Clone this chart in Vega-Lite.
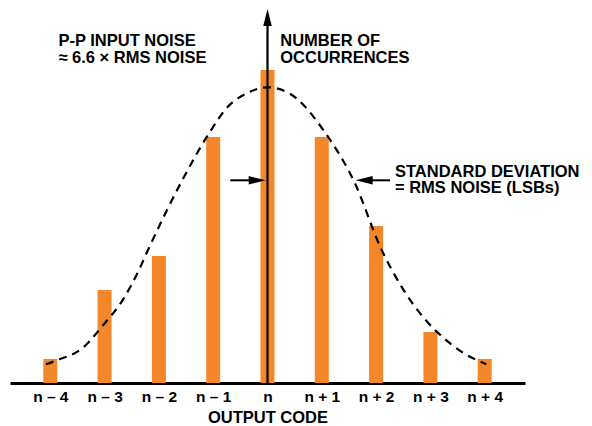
{
  "$schema": "https://vega.github.io/schema/vega-lite/v6.json",
  "width": 515,
  "height": 375,
  "autosize": {"type": "none"},
  "padding": {"left": 10, "top": 8, "right": 67, "bottom": 43},
  "background": "white",
  "config": {"view": {"stroke": null}},
  "datasets": {
    "bars": [
      {"x": -4, "y": 24}, {"x": -3, "y": 93}, {"x": -2, "y": 127},
      {"x": -1, "y": 246}, {"x": 0, "y": 313}, {"x": 1, "y": 246},
      {"x": 2, "y": 157}, {"x": 3, "y": 51}, {"x": 4, "y": 24}
    ],
    "curve": [
      {"x": -4.08, "y": 18.7}, {"x": -3.88, "y": 22.7}, {"x": -3.39, "y": 35.7},
      {"x": -3.03, "y": 57.7}, {"x": -2.67, "y": 82.7}, {"x": -2.37, "y": 112.7},
      {"x": -2.22, "y": 130.7}, {"x": -1.59, "y": 200.7}, {"x": -1.10, "y": 247.7},
      {"x": -0.74, "y": 275.7}, {"x": -0.38, "y": 289.7}, {"x": 0, "y": 295.7},
      {"x": 0.40, "y": 289.7}, {"x": 1.07, "y": 249.7}, {"x": 1.61, "y": 199.7},
      {"x": 2.08, "y": 135.7}, {"x": 2.51, "y": 92.7}, {"x": 2.87, "y": 65.7},
      {"x": 3.23, "y": 45.7}, {"x": 3.59, "y": 30.7}, {"x": 4.03, "y": 18.7}
    ],
    "vline": [{"x": 0, "y": 0, "y2": 366}],
    "hlines": [{"x": -0.686, "x2": -0.2, "y": 202.7}, {"x": 2.257, "x2": 1.75, "y": 202.7}],
    "headUp": [{"x": 0, "y": 365.5}],
    "headRight": [{"x": -0.19, "y": 202.7}],
    "headLeft": [{"x": 1.779, "y": 202.7}],
    "labels": [
      {"x": -3.85, "y": 337, "t": "P-P INPUT NOISE"},
      {"x": -3.85, "y": 320, "t": "≈ 6.6 × RMS NOISE"},
      {"x": 0.235, "y": 337, "t": "NUMBER OF"},
      {"x": 0.235, "y": 320, "t": "OCCURRENCES"},
      {"x": 2.347, "y": 206, "t": "STANDARD DEVIATION"},
      {"x": 2.347, "y": 189.7, "t": "= RMS NOISE (LSBs)"}
    ]
  },
  "encoding": {
    "x": {
      "field": "x", "type": "quantitative",
      "scale": {"domain": [-4.65, 4.65], "nice": false, "zero": false},
      "axis": {
        "values": [-4, -3, -2, -1, 0, 1, 2, 3, 4],
        "labelExpr": "datum.value == 0 ? 'n' : (datum.value < 0 ? 'n – ' + (-datum.value) : 'n + ' + datum.value)",
        "domainColor": "black", "domainWidth": 3, "ticks": false, "grid": false,
        "labelFont": "Liberation Sans", "labelFontWeight": "bold", "labelFontSize": 15.5,
        "labelColor": "black", "labelPadding": 6, "labelFlush": false, "labelOverlap": false,
        "title": "OUTPUT CODE", "titleFont": "Liberation Sans", "titleFontWeight": "bold",
        "titleFontSize": 16.5, "titleColor": "black", "titlePadding": 5
      }
    },
    "y": {
      "field": "y", "type": "quantitative",
      "scale": {"domain": [0, 375], "nice": false, "zero": true},
      "axis": null
    }
  },
  "layer": [
    {"data": {"name": "bars"}, "mark": {"type": "bar", "size": 14, "color": "#F5872B"}},
    {"data": {"name": "curve"}, "mark": {"type": "line", "color": "black", "strokeWidth": 2.2, "strokeDash": [8, 6], "interpolate": "monotone"}},
    {"data": {"name": "vline"}, "mark": {"type": "rule", "color": "black", "strokeWidth": 2.2}, "encoding": {"y2": {"field": "y2"}}},
    {"data": {"name": "hlines"}, "mark": {"type": "rule", "color": "black", "strokeWidth": 2}, "encoding": {"x2": {"field": "x2"}}},
    {"data": {"name": "headUp"}, "mark": {"type": "point", "shape": "M0,-1 L0.5,1 L-0.5,1 Z", "size": 289, "filled": true, "color": "black", "opacity": 1}},
    {"data": {"name": "headRight"}, "mark": {"type": "point", "shape": "M1,0 L-1,-0.5 L-1,0.5 Z", "size": 289, "filled": true, "color": "black", "opacity": 1}},
    {"data": {"name": "headLeft"}, "mark": {"type": "point", "shape": "M-1,0 L1,-0.5 L1,0.5 Z", "size": 289, "filled": true, "color": "black", "opacity": 1}},
    {"data": {"name": "labels"}, "mark": {"type": "text", "align": "left", "baseline": "alphabetic", "font": "Liberation Sans", "fontWeight": "bold", "fontSize": 16.5, "color": "black"}, "encoding": {"text": {"field": "t"}}}
  ]
}
